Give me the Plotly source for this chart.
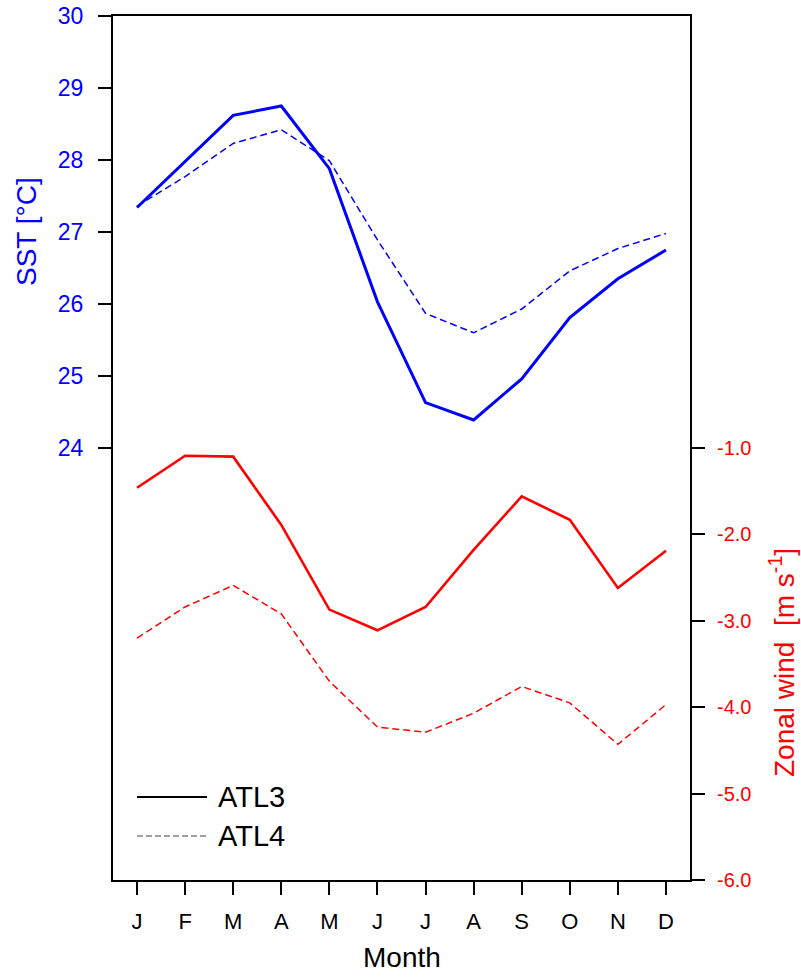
import plotly.graph_objects as go

months = ["J", "F", "M", "A", "M", "J", "J", "A", "S", "O", "N", "D"]
month_idx = list(range(12))

sst_atl3 = [27.34, 27.98, 28.62, 28.75, 27.88, 26.03, 24.63, 24.39, 24.96, 25.81, 26.35, 26.75]
sst_atl4 = [27.36, 27.77, 28.23, 28.42, 27.99, 26.89, 25.87, 25.60, 25.93, 26.46, 26.77, 26.98]
wind_atl3 = [-1.46, -1.09, -1.10, -1.89, -2.87, -3.11, -2.84, -2.18, -1.56, -1.83, -2.62, -2.19]
wind_atl4 = [-3.20, -2.84, -2.59, -2.92, -3.70, -4.23, -4.29, -4.07, -3.76, -3.95, -4.43, -3.97]

sst_ticks = [24, 25, 26, 27, 28, 29, 30]
wind_ticks = [-6, -5, -4, -3, -2, -1]
wind_ticktext = ["-6.0", "-5.0", "-4.0", "-3.0", "-2.0", "-1.0"]

FONT = "Liberation Sans, Arial, Helvetica, sans-serif"
BLUE = "#0000ff"
RED = "#ff0000"

L, R, T, B = 113, 801 - 690, 16, 977 - 880
PW, PH = 690 - 113, 880 - 16


def px(xp):
    return (xp - 113) / PW


def py(yp):
    return (880 - yp) / PH


fig = go.Figure()
fig.add_trace(go.Scatter(x=month_idx, y=sst_atl3, mode="lines",
                         line=dict(color=BLUE, width=3), yaxis="y", showlegend=False))
fig.add_trace(go.Scatter(x=month_idx, y=sst_atl4, mode="lines",
                         line=dict(color=BLUE, width=1.5, dash="7px,4px"), yaxis="y", showlegend=False))
fig.add_trace(go.Scatter(x=month_idx, y=wind_atl3, mode="lines",
                         line=dict(color=RED, width=2.6), yaxis="y2", showlegend=False))
fig.add_trace(go.Scatter(x=month_idx, y=wind_atl4, mode="lines",
                         line=dict(color=RED, width=1.5, dash="7px,4px"), yaxis="y2", showlegend=False))

fig.update_layout(
    width=801, height=977,
    margin=dict(l=L, r=R, t=T, b=B, autoexpand=False),
    paper_bgcolor="white", plot_bgcolor="white",
    font=dict(family=FONT, color="black"),
    xaxis=dict(range=[-0.5, 11.5], tickvals=month_idx, ticktext=months,
               showgrid=False, zeroline=False, showline=True, linecolor="black",
               linewidth=2, mirror=True, ticks="outside", ticklen=13, tickwidth=2,
               tickcolor="black", tickfont=dict(size=22, color="black"),
               ticklabelstandoff=8, automargin=False, ticklabeloverflow="allow"),
    yaxis=dict(range=[18, 30], tickvals=sst_ticks, showgrid=False, zeroline=False,
               showline=True, linecolor="black", linewidth=2, mirror=True,
               ticks="outside", ticklen=13, tickwidth=2, tickcolor="black",
               tickfont=dict(size=23, color=BLUE), ticklabelstandoff=10,
               automargin=False, ticklabeloverflow="allow"),
    yaxis2=dict(range=[-6, 4], tickvals=wind_ticks, ticktext=wind_ticktext,
                overlaying="y", side="right", showgrid=False, zeroline=False,
                showline=True, linecolor="black", linewidth=2,
                ticks="outside", ticklen=13, tickwidth=2, tickcolor="black",
                tickfont=dict(size=20, color=RED), ticklabelstandoff=8,
                automargin=False, ticklabeloverflow="allow"),
)

annotations = [
    dict(text="SST [°C]", xref="paper", yref="paper", x=px(26), y=py(232),
         xanchor="center", yanchor="middle", textangle=-90, showarrow=False,
         font=dict(size=28, color=BLUE, family=FONT)),
    dict(text="Zonal wind&nbsp; [m s<sup>-1</sup>]", xref="paper", yref="paper",
         x=px(782), y=py(663),
         xanchor="center", yanchor="middle", textangle=-90, showarrow=False,
         font=dict(size=28, color=RED, family=FONT)),
    dict(text="Month", xref="paper", yref="paper", x=0.5, y=py(958),
         xanchor="center", yanchor="middle", showarrow=False,
         font=dict(size=28, color="black", family=FONT)),
    dict(text="ATL3", xref="paper", yref="paper", x=px(216), y=py(797),
         xanchor="left", yanchor="middle", showarrow=False,
         font=dict(size=29, color="black", family=FONT)),
    dict(text="ATL4", xref="paper", yref="paper", x=px(216), y=py(836),
         xanchor="left", yanchor="middle", showarrow=False,
         font=dict(size=29, color="black", family=FONT)),
]
shapes = [
    dict(type="line", xref="paper", yref="paper",
         x0=px(137), x1=px(207), y0=py(797), y1=py(797),
         line=dict(color="black", width=2.2)),
    dict(type="line", xref="paper", yref="paper",
         x0=px(137), x1=px(207), y0=py(836), y1=py(836),
         line=dict(color="#444444", width=1.2, dash="6px,3px")),
]
fig.update_layout(annotations=annotations, shapes=shapes)

fig.write_html("out.html",
               config={"displayModeBar": False},
               post_script="document.body.style.margin='0';document.body.style.overflow='hidden';")
